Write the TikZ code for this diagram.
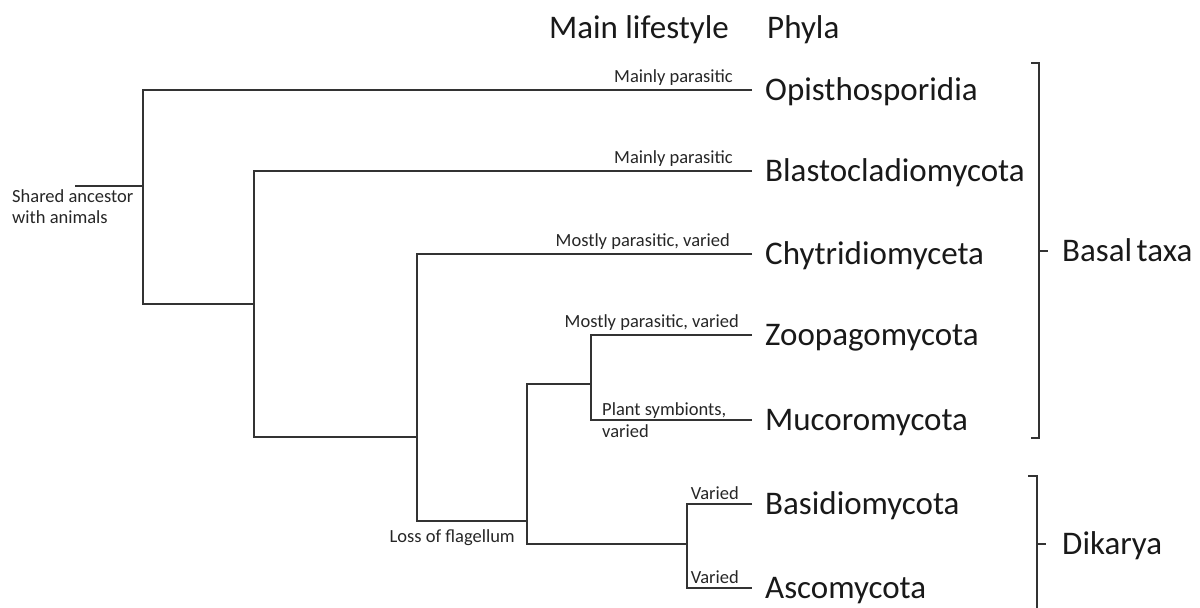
\documentclass[tikz,border=0pt]{standalone}
\usepackage{fontspec}
\setmainfont{Carlito}
\begin{document}
\begin{tikzpicture}[x=1pt,y=-1pt,
  br/.style={line width=1.3pt, draw=black!80},
  phy/.style={font=\fontsize{33}{38}\selectfont, inner sep=0pt, anchor=west, text height=21pt, text depth=0pt, text=black!90},
  ttl/.style={font=\fontsize{33}{38}\selectfont, inner sep=0pt, text=black!90},
  lab/.style={font=\fontsize{18.5}{21}\selectfont, inner sep=0pt, text=black!85},
]
\useasboundingbox (0,0) rectangle (1200,608);
% titles
\node[ttl, anchor=base east] (ml) at (729,38) {Main lifestyle};
\node[ttl, anchor=base west] (ph) at (767,38) {Phyla};
% tree coordinates
\coordinate (r0) at (75,186);
\coordinate (r) at (143,186);
\coordinate (n1) at (254,304);
\coordinate (n2) at (417,437);
\coordinate (n3) at (527,521);
\coordinate (n4) at (591,384);
\coordinate (n5) at (687,544);
\coordinate (tOp) at (752,90);
\coordinate (tBl) at (752,171);
\coordinate (tCh) at (752,254);
\coordinate (tZo) at (752,335);
\coordinate (tMu) at (752,420);
\coordinate (tBa) at (752,504);
\coordinate (tAs) at (752,588);
% phyla
\node[phy] (op) at ([xshift=13pt]tOp) {Opisthosporidia};
\node[phy] (bl) at ([xshift=13pt]tBl) {Blastocladiomycota};
\node[phy] (ch) at ([xshift=13pt]tCh) {Chytridiomyceta};
\node[phy] (zo) at ([xshift=13pt]tZo) {Zoopagomycota};
\node[phy] (mu) at ([xshift=13pt]tMu) {Mucoromycota};
\node[phy] (ba) at ([xshift=13pt]tBa) {Basidiomycota};
\node[phy] (as) at ([xshift=13pt]tAs) {Ascomycota};
% branches
\draw[br] (r0) -- (r);
\draw[br] (tOp) -| (r |- n1) -- (n1);
\draw[br] (tBl) -| (n1 |- n2) -- (n2);
\draw[br] (tCh) -| (n2 |- n3) -- (n3);
\draw[br] (n4) -| (n3 |- n5) -- (n5);
\draw[br] (tZo) -| (n4 |- tMu) -- (tMu);
\draw[br] (tBa) -| (n5 |- tAs) -- (tAs);
% lifestyle labels
\node[lab, anchor=base east] (l1) at (733,82) {Mainly parasitic};
\node[lab, anchor=base east] (l2) at (733,163) {Mainly parasitic};
\node[lab, anchor=base east] (l3) at (730,246) {Mostly parasitic, varied};
\node[lab, anchor=base east] (l4) at (739,327) {Mostly parasitic, varied};
\node[lab, anchor=base west] (l5a) at (602,415) {Plant symbionts,};
\node[lab, anchor=base west] (l5b) at (602,437) {varied};
\node[lab, anchor=base east] (l6) at (739,499) {Varied};
\node[lab, anchor=base east] (l7) at (739,583) {Varied};
\node[lab, anchor=base east] (lf) at (515,542) {Loss of flagellum};
\node[lab, anchor=base west] (sa1) at (12,202) {Shared ancestor};
\node[lab, anchor=base west] (sa2) at (12,223) {with animals};
% brackets
\coordinate (b1t) at (1039,63);
\coordinate (b1b) at (1039,438);
\coordinate (b1m) at (1039,251);
\draw[br] ([xshift=-8pt]b1t) -- (b1t) -- (b1b) -- ([xshift=-8pt]b1b);
\draw[br] (b1m) -- ([xshift=9pt]b1m);
\node[ttl, anchor=base west] (bt) at (1062,261.5) {Basal\hspace{4.5pt}taxa};
\coordinate (b2t) at (1037,476);
\coordinate (b2b) at (1037,612);
\coordinate (b2m) at (1037,544);
\draw[br] ([xshift=-9pt]b2t) -- (b2t) -- (b2b);
\draw[br] (b2m) -- ([xshift=9pt]b2m);
\node[ttl, anchor=base west] (dk) at (1062,554.5) {Dikarya};
\end{tikzpicture}
\end{document}
